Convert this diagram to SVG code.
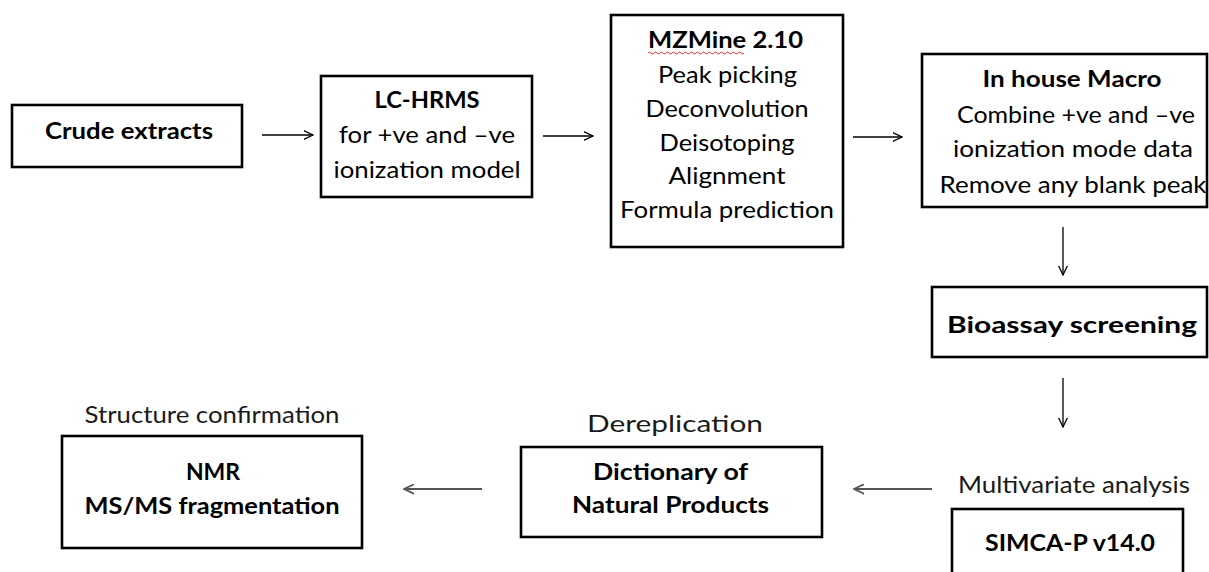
<svg xmlns="http://www.w3.org/2000/svg" width="1209" height="572" viewBox="0 0 1209 572">
<defs>
<style>
.box{fill:#fff;stroke:#000;stroke-width:2.6}
.t{font-family:Lato,"Liberation Sans",Arial,sans-serif;font-size:22.5px;fill:#000;text-anchor:middle}
.b{font-weight:bold;font-size:23px}
.lbl{fill:#1a1a1a}
.c{stroke:#000;stroke-width:1.3;fill:none}
.g{stroke:#555;stroke-width:1.8;fill:none}
</style>
<marker id="ah" viewBox="0 0 10 10" refX="9.5" refY="5" markerWidth="10" markerHeight="10" markerUnits="userSpaceOnUse" orient="auto">
<path d="M0,0.5 L9.5,5 L0,9.5" fill="none" stroke="#000" stroke-width="1.3"/>
</marker>
<marker id="ahg" viewBox="0 0 10 10" refX="9.5" refY="5" markerWidth="11" markerHeight="11" markerUnits="userSpaceOnUse" orient="auto">
<path d="M0,0.5 L9.5,5 L0,9.5" fill="none" stroke="#555" stroke-width="1.6"/>
</marker>
</defs>
<rect width="1209" height="572" fill="#fff"/>
<g id="connectors">
<line class="c" x1="262" y1="135" x2="313" y2="135" marker-end="url(#ah)"/>
<line class="c" x1="543" y1="136" x2="593" y2="136" marker-end="url(#ah)"/>
<line class="c" x1="853" y1="137" x2="902" y2="137" marker-end="url(#ah)"/>
<line class="c" x1="1063" y1="227" x2="1063" y2="275" marker-end="url(#ah)"/>
<line class="c" x1="1063" y1="378" x2="1063" y2="427" marker-end="url(#ah)"/>
<line class="g" x1="932" y1="489" x2="854" y2="489" marker-end="url(#ahg)"/>
<line class="g" x1="482" y1="489" x2="404" y2="489" marker-end="url(#ahg)"/>
</g>
<g id="crude">
<rect class="box" x="12" y="105" width="230" height="62"/>
<text class="t b" x="129" y="139" font-size="24.5" textLength="168" lengthAdjust="spacingAndGlyphs">Crude extracts</text>
</g>
<g id="lchrms">
<rect class="box" x="321" y="76" width="211" height="121"/>
<text class="t b" x="427" y="108" textLength="105" lengthAdjust="spacingAndGlyphs">LC-HRMS</text>
<text class="t" x="427" y="143" textLength="176" lengthAdjust="spacingAndGlyphs">for +ve and –ve</text>
<text class="t" x="427" y="178" textLength="187" lengthAdjust="spacingAndGlyphs">ionization model</text>
</g>
<g id="mzmine">
<rect class="box" x="611" y="15" width="232" height="232"/>
<text class="t b" x="725.5" y="48" textLength="155" lengthAdjust="spacingAndGlyphs">MZMine 2.10</text>
<path d="M648,53 q1.5,-2 3,0 t3,0 t3,0 t3,0 t3,0 t3,0 t3,0 t3,0 t3,0 t3,0 t3,0 t3,0 t3,0 t3,0 t3,0 t3,0 t3,0 t3,0 t3,0 t3,0 t3,0 t3,0 t3,0 t3,0 t3,0 t3,0 t3,0 t3,0 t3,0 t3,0 t3,0 t3,0" fill="none" stroke="#e02020" stroke-width="0.9"/>
<text class="t" x="727.5" y="83" textLength="139" lengthAdjust="spacingAndGlyphs">Peak picking</text>
<text class="t" x="727" y="117" textLength="163" lengthAdjust="spacingAndGlyphs">Deconvolution</text>
<text class="t" x="727" y="151" textLength="135" lengthAdjust="spacingAndGlyphs">Deisotoping</text>
<text class="t" x="727" y="184" textLength="117" lengthAdjust="spacingAndGlyphs">Alignment</text>
<text class="t" x="727" y="218" textLength="214" lengthAdjust="spacingAndGlyphs">Formula prediction</text>
</g>
<g id="macro">
<rect class="box" x="922" y="54" width="285" height="153"/>
<text class="t b" x="1072" y="87" textLength="179" lengthAdjust="spacingAndGlyphs">In house Macro</text>
<text class="t" x="1076" y="123" textLength="238" lengthAdjust="spacingAndGlyphs">Combine +ve and –ve</text>
<text class="t" x="1073" y="157" textLength="240" lengthAdjust="spacingAndGlyphs">ionization mode data</text>
<text class="t" x="1073" y="193" textLength="267" lengthAdjust="spacingAndGlyphs">Remove any blank peak</text>
</g>
<g id="bioassay">
<rect class="box" x="932" y="287" width="275" height="70"/>
<text class="t b" x="1072" y="333" font-size="28" textLength="250" lengthAdjust="spacingAndGlyphs">Bioassay screening</text>
</g>
<g id="simca">
<text class="t lbl" x="1074" y="493" font-size="24.5" textLength="232" lengthAdjust="spacingAndGlyphs">Multivariate analysis</text>
<rect class="box" x="952" y="509" width="231" height="80"/>
<text class="t b" x="1070" y="551" font-size="25.5" textLength="170" lengthAdjust="spacingAndGlyphs">SIMCA-P v14.0</text>
</g>
<g id="dictionary">
<text class="t lbl" x="675" y="432" font-size="26" textLength="176" lengthAdjust="spacingAndGlyphs">Dereplication</text>
<rect class="box" x="521" y="447" width="301" height="90"/>
<text class="t b" x="670.5" y="480" textLength="155" lengthAdjust="spacingAndGlyphs">Dictionary of</text>
<text class="t b" x="670.5" y="513" textLength="197" lengthAdjust="spacingAndGlyphs">Natural Products</text>
</g>
<g id="nmr">
<text class="t lbl" x="212" y="423" font-size="20" textLength="255" lengthAdjust="spacingAndGlyphs">Structure confirmation</text>
<rect class="box" x="62" y="436" width="300" height="112"/>
<text class="t b" x="213" y="480" font-size="24">NMR</text>
<text class="t b" x="212" y="514" font-size="24" textLength="255" lengthAdjust="spacingAndGlyphs">MS/MS fragmentation</text>
</g>
</svg>
